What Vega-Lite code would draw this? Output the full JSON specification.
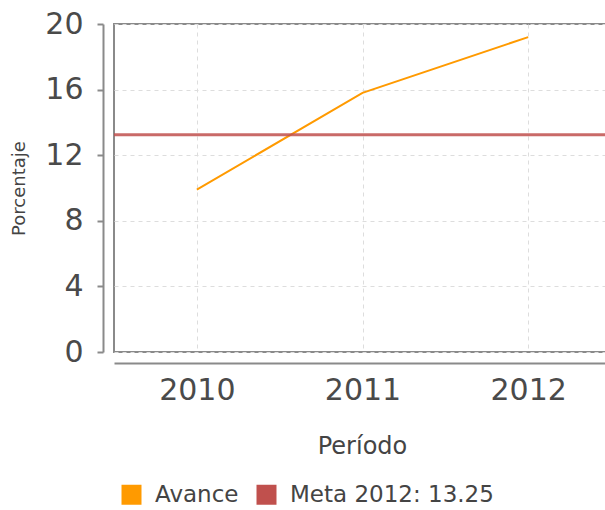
{
  "$schema": "https://vega.github.io/schema/vega-lite/v6.json",
  "autosize": {"type": "none"},
  "padding": {"left": 114, "top": 24, "right": 0, "bottom": 158},
  "width": 497,
  "height": 328,
  "background": "white",
  "config": {
    "font": "DejaVu Sans",
    "view": {"stroke": "#8a8a8a", "strokeWidth": 2},
    "axis": {
      "domainColor": "#8a8a8a",
      "domainWidth": 2,
      "gridColor": "#dddddd",
      "gridDash": [4, 4],
      "gridWidth": 1,
      "labelColor": "#4a4a4a",
      "titleColor": "#444444",
      "titleFontWeight": "normal"
    }
  },
  "datasets": {
    "avance": [
      {"Periodo": "2010", "valor": 9.9, "serie": "Avance"},
      {"Periodo": "2011", "valor": 15.8, "serie": "Avance"},
      {"Periodo": "2012", "valor": 19.2, "serie": "Avance"}
    ],
    "meta": [
      {"valor": 13.25, "serie": "Meta 2012: 13.25"}
    ]
  },
  "layer": [
    {
      "data": {"name": "avance"},
      "mark": {"type": "line", "strokeWidth": 2},
      "encoding": {
        "x": {
          "field": "Periodo",
          "type": "ordinal",
          "scale": {"type": "point", "padding": 0.5},
          "axis": {
            "title": "Período",
            "offset": 11,
            "ticks": false,
            "labelAngle": 0,
            "labelFontSize": 30,
            "labelPadding": 12,
            "titleFontSize": 24,
            "titlePadding": 29,
            "titleX": 248,
            "grid": true
          }
        },
        "y": {
          "field": "valor",
          "type": "quantitative",
          "scale": {"domain": [0, 20], "nice": false},
          "axis": {
            "title": "Porcentaje",
            "values": [0, 4, 8, 12, 16, 20],
            "offset": 11,
            "tickSize": 6,
            "tickColor": "#8a8a8a",
            "tickWidth": 2,
            "labelFontSize": 30,
            "labelPadding": 14,
            "titleFontSize": 18,
            "titlePadding": 16,
            "grid": true
          }
        },
        "color": {
          "field": "serie",
          "type": "nominal",
          "scale": {"domain": ["Avance", "Meta 2012: 13.25"], "range": ["#ff9a00", "#c0504d"]},
          "legend": {
            "title": null,
            "orient": "none",
            "direction": "horizontal",
            "legendX": 6,
            "legendY": 459,
            "symbolType": "square",
            "symbolSize": 400,
            "symbolOpacity": 1,
            "labelFontSize": 23,
            "labelColor": "#444444",
            "labelOffset": 12,
            "labelLimit": 400,
            "columnPadding": 16,
            "encode": {
              "symbols": {
                "update": {
                  "fill": {"scale": "color", "field": "value"},
                  "stroke": {"value": "transparent"},
                  "strokeWidth": {"value": 0}
                }
              }
            }
          }
        }
      }
    },
    {
      "data": {"name": "meta"},
      "mark": {"type": "rule", "strokeWidth": 3, "opacity": 0.85},
      "encoding": {
        "y": {"field": "valor", "type": "quantitative"},
        "color": {"field": "serie", "type": "nominal"}
      }
    }
  ]
}
